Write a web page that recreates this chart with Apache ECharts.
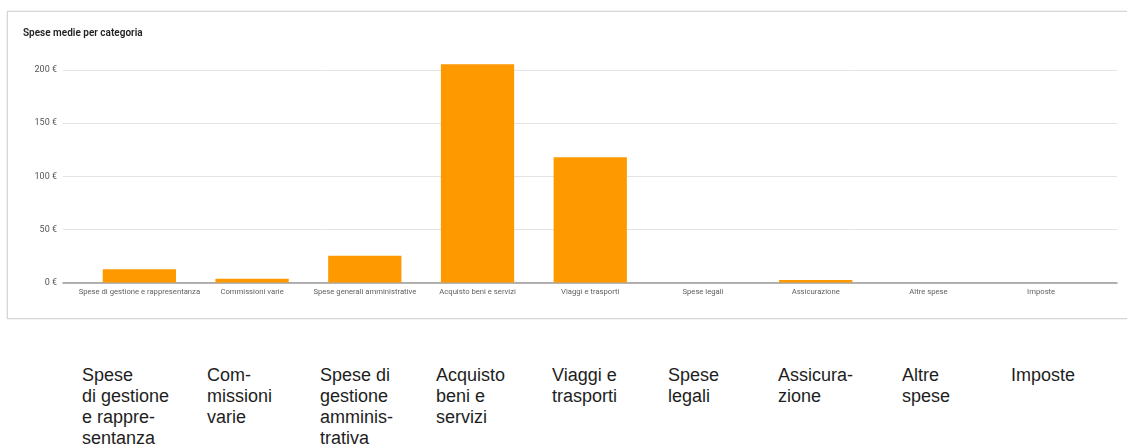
<!DOCTYPE html>
<html>
<head>
<meta charset="utf-8">
<title>Spese medie per categoria</title>
<script src="https://cdn.jsdelivr.net/npm/echarts@6/dist/echarts.min.js"></script>
<style>
  html, body {
    margin: 0;
    padding: 0;
    background: #fff;
    width: 1127px;
    height: 445px;
    overflow: hidden;
    position: relative;
  }
  .card {
    position: absolute;
    left: 7px;
    top: 11px;
    width: 1140px;
    height: 308px;
    border: 1px solid #d6d6d6;
    box-shadow: 0 0 2px rgba(0, 0, 0, 0.14);
    box-sizing: border-box;
  }
  #chart {
    position: absolute;
    left: 0;
    top: 0;
    width: 1127px;
    height: 330px;
  }
  .lbl {
    position: absolute;
    top: 365px;
    font-family: "Liberation Sans", Arial, sans-serif;
    font-size: 18px;
    line-height: 21px;
    color: #1e1e1e;
    white-space: nowrap;
  }
</style>
</head>
<body>
<div class="card"></div>
<div id="chart"></div>
<div id="labels"></div>
<script>
// categorie e valori (euro medi)
var categories = [
  "Spese di gestione e rappresentanza",
  "Commissioni varie",
  "Spese generali amministrative",
  "Acquisto beni e servizi",
  "Viaggi e trasporti",
  "Spese legali",
  "Assicurazione",
  "Altre spese",
  "Imposte"
];
var values = [12.5, 3.6, 25.2, 205.5, 118, 0, 2.4, 0, 0];
var yTicks = [0, 50, 100, 150, 200];

// testo sotto il grafico, una riga per elemento
var bottomLabels = [
  ["Spese", "di gestione", "e rappre-", "sentanza"],
  ["Com-", "missioni", "varie"],
  ["Spese di", "gestione", "amminis-", "trativa"],
  ["Acquisto", "beni e", "servizi"],
  ["Viaggi e", "trasporti"],
  ["Spese", "legali"],
  ["Assicura-", "zione"],
  ["Altre", "spese"],
  ["Imposte"]
];
var bottomLeft = [82, 207, 320, 436, 552, 668, 778, 902, 1011];

var box = document.getElementById("labels");
bottomLabels.forEach(function (lines, i) {
  var d = document.createElement("div");
  d.className = "lbl";
  d.style.left = bottomLeft[i] + "px";
  d.innerHTML = lines.join("<br>");
  box.appendChild(d);
});

var myChart = echarts.init(document.getElementById("chart"), null, { renderer: "canvas" });
var gridTop = 70;
var gridBottom = 47.5;
var opt = {
  animation: false,
  textStyle: { fontFamily: "Roboto" },
  title: {
    text: "Spese medie per categoria",
    left: 23,
    top: 28,
    padding: 0,
    textStyle: {
      fontSize: 10,
      fontWeight: 600,
      color: "#222",
      fontFamily: "Roboto"
    }
  },
  grid: [
    // griglia larga: linee orizzontali e asse
    { left: 63, right: 10, top: gridTop, bottom: gridBottom, outerBoundsMode: "none", containLabel: false },
    // griglia stretta: barre ed etichette
    { left: 83, right: 29.5, top: gridTop, bottom: gridBottom, outerBoundsMode: "none", containLabel: false }
  ],
  xAxis: [
    {
      type: "category",
      gridIndex: 0,
      data: categories,
      axisLine: { show: true, lineStyle: { color: "#9a9a9a", width: 1.5 } },
      axisTick: { show: false },
      axisLabel: { show: false },
      splitLine: { show: false }
    },
    {
      type: "category",
      gridIndex: 1,
      data: categories,
      axisLine: { show: false },
      axisTick: { show: false },
      axisLabel: {
        interval: 0,
        hideOverlap: false,
        margin: 6,
        fontSize: 7.7,
        color: "#5f5f5f",
        fontFamily: "Roboto"
      },
      splitLine: { show: false }
    }
  ],
  yAxis: [
    {
      type: "value",
      gridIndex: 0,
      min: yTicks[0],
      max: yTicks[yTicks.length - 1],
      interval: 50,
      axisLine: { show: false },
      axisTick: { show: false },
      axisLabel: {
        margin: 6,
        fontSize: 9,
        color: "#555",
        fontFamily: "Roboto",
        formatter: function (v) { return v + " €"; }
      },
      splitLine: { show: true, lineStyle: { color: "#e3e3e3", width: 1 } }
    },
    {
      type: "value",
      gridIndex: 1,
      min: yTicks[0],
      max: yTicks[yTicks.length - 1],
      interval: 50,
      show: false,
      splitLine: { show: false }
    }
  ],
  series: [
    {
      name: "Spese medie",
      type: "bar",
      xAxisIndex: 1,
      yAxisIndex: 1,
      clip: false,
      barWidth: "65%",
      itemStyle: { color: "#ff9900" },
      data: values
    }
  ]
};
myChart.setOption(opt);
</script>
</body>
</html>
